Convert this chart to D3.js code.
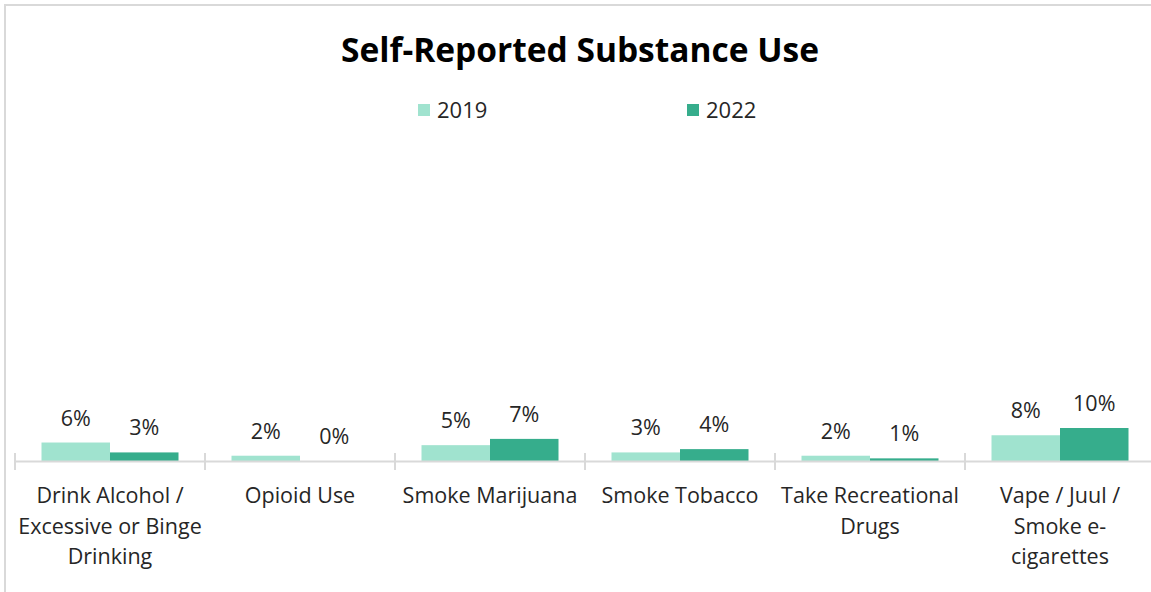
<!DOCTYPE html>
<html>
<head>
<meta charset="utf-8">
<script src="https://cdn.jsdelivr.net/npm/d3@7"></script>
<style>
  html, body { margin: 0; padding: 0; background: #fff; }
  svg { display: block; }
  text { font-family: "Open Sans", "Noto Sans", sans-serif; fill: #262626; }
</style>
</head>
<body>
<svg id="chart" width="1151" height="592"></svg>
<script>
// Substance-use categories (label lines)
const categories = [
  ["Drink Alcohol /", "Excessive or Binge", "Drinking"],
  ["Opioid Use"],
  ["Smoke Marijuana"],
  ["Smoke Tobacco"],
  ["Take Recreational", "Drugs"],
  ["Vape / Juul /", "Smoke e-", "cigarettes"]
];
const seriesNames = ["2019", "2022"];
const values2019 = [0.056, 0.016, 0.048, 0.026, 0.016, 0.078];
const values2022 = [0.026, 0.000, 0.067, 0.036, 0.008, 0.100];
const seriesColors = ["#a0e3cf", "#36ad8c"];

const svg = d3.select("#chart");
const W = 1151, H = 592;

// chart-area frame
svg.append("rect")
  .attr("x", 5).attr("y", 5)
  .attr("width", W + 10).attr("height", H + 10)
  .attr("fill", "#fff").attr("stroke", "#d9d9d9").attr("stroke-width", 2);

const plot = { left: 15, right: 1155, top: 131, bottom: 461 };

const keys = categories.map((c, i) => i);
const x0 = d3.scaleBand().domain(keys).range([plot.left, plot.right]).paddingInner(0).paddingOuter(0);
const groupPad = 26.5;
const x1 = d3.scaleBand().domain(seriesNames)
  .range([0, x0.bandwidth() - 2 * groupPad]);
const y = d3.scaleLinear().domain([0, 1]).range([plot.bottom, plot.top]);

const series = [values2019, values2022];
const fmt = d3.format(".0%");
const fs = 21.5;

// bars
const groups = svg.append("g").selectAll("g")
  .data(keys)
  .join("g")
  .attr("transform", i => `translate(${x0(i) + groupPad},0)`);

groups.selectAll("rect")
  .data(i => seriesNames.map((s, k) => ({ s, k, v: series[k][i] })))
  .join("rect")
  .attr("x", d => x1(d.s))
  .attr("width", x1.bandwidth())
  .attr("y", d => y(d.v))
  .attr("height", d => y(0) - y(d.v))
  .attr("fill", d => seriesColors[d.k]);

// value labels
groups.selectAll("text.val")
  .data(i => seriesNames.map((s, k) => ({ s, k, v: series[k][i] })))
  .join("text")
  .attr("class", "val")
  .attr("x", d => x1(d.s) + x1.bandwidth() / 2)
  .attr("y", d => y(d.v) - 17)
  .attr("text-anchor", "middle")
  .attr("font-size", fs)
  .text(d => fmt(d.v));

// category axis
const xAxis = d3.axisBottom(x0).tickSize(0).tickFormat("");
const axisG = svg.append("g")
  .attr("transform", `translate(0,${plot.bottom})`)
  .call(xAxis);
axisG.select(".domain").attr("stroke", "#d9d9d9").attr("stroke-width", 2);

// tick marks on category boundaries
const boundaries = keys.map(i => x0(i)).concat([plot.right]);
svg.append("g").selectAll("line")
  .data(boundaries)
  .join("line")
  .attr("x1", d => d).attr("x2", d => d)
  .attr("y1", plot.bottom - 8).attr("y2", plot.bottom + 9)
  .attr("stroke", "#d9d9d9").attr("stroke-width", 2);

// category labels
const catLabels = svg.append("g").selectAll("text")
  .data(keys)
  .join("text")
  .attr("text-anchor", "middle")
  .attr("font-size", fs)
  .attr("x", i => x0(i) + x0.bandwidth() / 2)
  .attr("y", 503);
catLabels.selectAll("tspan")
  .data(i => categories[i])
  .join("tspan")
  .attr("x", function() { return d3.select(this.parentNode).attr("x"); })
  .attr("dy", (d, j) => j === 0 ? 0 : 30.5)
  .text(d => d);

// title
svg.append("text")
  .attr("x", 580).attr("y", 62)
  .attr("text-anchor", "middle")
  .attr("font-size", 33.5)
  .attr("font-weight", 700)
  .style("fill", "#000")
  .text("Self-Reported Substance Use");

// legend
const legendX = [418, 687];
const legend = svg.append("g").selectAll("g")
  .data(seriesNames)
  .join("g")
  .attr("transform", (d, k) => `translate(${legendX[k]},104)`);
legend.append("rect")
  .attr("width", 12).attr("height", 12)
  .attr("fill", (d, k) => seriesColors[k]);
legend.append("text")
  .attr("x", 19).attr("y", 14)
  .attr("font-size", 22)
  .text(d => d);
</script>
</body>
</html>
